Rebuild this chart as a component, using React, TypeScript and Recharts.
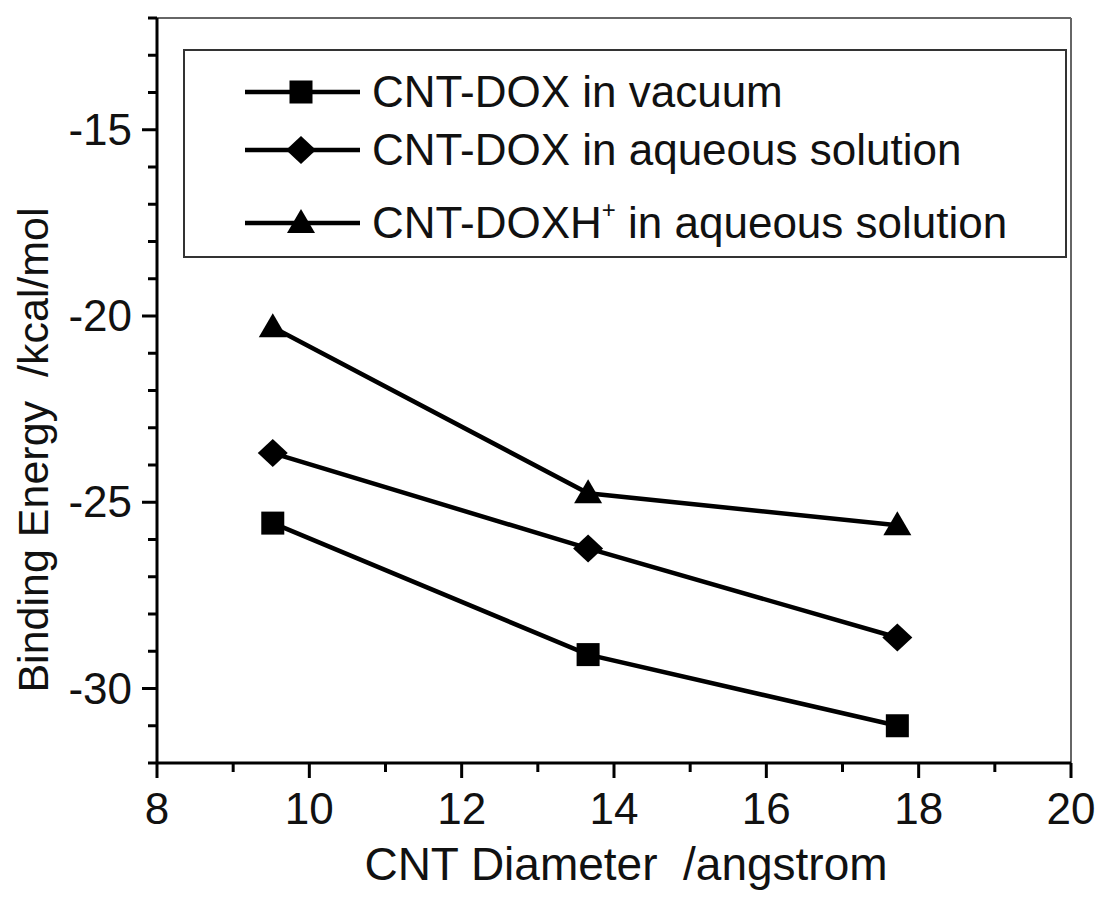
import { LineChart, Line, XAxis, YAxis, Legend, ReferenceLine, Label } from "recharts";

const diameters = [9.52, 13.66, 17.72];
const vacuum = [-25.56, -29.09, -31.0];
const aqueous = [-23.68, -26.24, -28.63];
const protonated = [-20.3, -24.76, -25.62];

const xTicks = [8, 9, 10, 11, 12, 13, 14, 15, 16, 17, 18, 19, 20];
const yTicks = [-32, -31, -30, -29, -28, -27, -26, -25, -24, -23, -22, -21, -20, -19, -18, -17, -16, -15, -14, -13, -12];

const FONT = "'Liberation Sans', Arial, Helvetica, sans-serif";
const PLOT_LEFT = 157;
const PLOT_BOTTOM = 763;

const data = diameters.map((d, i) => ({
  d,
  vacuum: vacuum[i],
  aqueous: aqueous[i],
  protonated: protonated[i],
}));

function Square({ cx, cy }: { cx: number; cy: number }) {
  return <rect x={cx - 11.5} y={cy - 11.5} width={23} height={23} fill="#000" />;
}

function Diamond({ cx, cy }: { cx: number; cy: number }) {
  return <polygon points={`${cx},${cy - 14} ${cx + 15},${cy} ${cx},${cy + 14} ${cx - 15},${cy}`} fill="#000" />;
}

function Triangle({ cx, cy }: { cx: number; cy: number }) {
  return <polygon points={`${cx},${cy - 14} ${cx + 14},${cy + 10} ${cx - 14},${cy + 10}`} fill="#000" />;
}

const dot = (Shape: typeof Square) => (p: any) => <Shape key={p.index} cx={p.cx} cy={p.cy} />;

function YTick({ y, payload }: any) {
  const major = payload.value % 5 === 0;
  return (
    <g>
      <line x1={PLOT_LEFT - (major ? 15 : 9)} x2={PLOT_LEFT} y1={y} y2={y} stroke="#000" strokeWidth={3} />
      {major && (
        <text x={PLOT_LEFT - 25} y={y + 15} textAnchor="end" fontSize={44} fontFamily={FONT} fill="#111">
          {payload.value}
        </text>
      )}
    </g>
  );
}

function XTick({ x, payload }: any) {
  const major = payload.value % 2 === 0;
  return (
    <g>
      <line x1={x} x2={x} y1={PLOT_BOTTOM} y2={PLOT_BOTTOM + (major ? 15 : 9)} stroke="#000" strokeWidth={3} />
      {major && (
        <text x={x} y={PLOT_BOTTOM + 61} textAnchor="middle" fontSize={44} fontFamily={FONT} fill="#111">
          {payload.value}
        </text>
      )}
    </g>
  );
}

const legendRows = [
  { Shape: Square, y: 43, text: "CNT-DOX in vacuum", sup: false },
  { Shape: Diamond, y: 101, text: "CNT-DOX in aqueous solution", sup: false },
  { Shape: Triangle, y: 174, text: "", sup: true },
];

function LegendBox() {
  return (
    <svg width={884} height={209} style={{ display: "block" }}>
      <rect x={1} y={1} width={882} height={207} fill="#fff" stroke="#333" strokeWidth={2} />
      {legendRows.map((r, i) => (
        <g key={i}>
          <line x1={62} x2={177} y1={r.y} y2={r.y} stroke="#000" strokeWidth={4.5} />
          <r.Shape cx={118} cy={r.y} />
          <text x={189} y={r.y + 15} fontSize={44} fontFamily={FONT} fill="#111">
            {r.sup ? (
              <>
                CNT-DOXH
                <tspan fontSize={24} dy={-20}>+</tspan>
                <tspan dy={20}> in aqueous solution</tspan>
              </>
            ) : (
              r.text
            )}
          </text>
        </g>
      ))}
    </svg>
  );
}

export default function App() {
  return (
    <div style={{ position: "absolute", left: 0, top: 0, width: 1101, height: 900, background: "#fff" }}>
      <LineChart width={1101} height={900} data={data} margin={{ top: 18, right: 30, bottom: 0, left: 0 }}>
        <XAxis
          dataKey="d"
          type="number"
          domain={[8, 20]}
          ticks={xTicks}
          interval={0}
          height={137}
          tickLine={false}
          axisLine={{ stroke: "#000", strokeWidth: 3 }}
          tick={<XTick />}
        >
          <Label
            content={() => (
              <text x={626} y={880} textAnchor="middle" fontSize={46} fontFamily={FONT} fill="#111">
                {"CNT Diameter\u00a0 /angstrom"}
              </text>
            )}
          />
        </XAxis>
        <YAxis
          type="number"
          domain={[-32, -12]}
          ticks={yTicks}
          interval={0}
          width={157}
          tickLine={false}
          axisLine={{ stroke: "#000", strokeWidth: 3 }}
          tick={<YTick />}
        >
          <Label
            content={() => (
              <text
                x={48}
                y={450}
                textAnchor="middle"
                fontSize={43}
                fontFamily={FONT}
                fill="#111"
                transform="rotate(-90 48 450)"
              >
                {"Binding Energy\u00a0 /kcal/mol"}
              </text>
            )}
          />
        </YAxis>
        <ReferenceLine y={-12} stroke="#666" strokeWidth={2} />
        <ReferenceLine x={20} stroke="#666" strokeWidth={2} />
        <Line dataKey="vacuum" stroke="#000" strokeWidth={4.5} dot={dot(Square)} isAnimationActive={false} />
        <Line dataKey="aqueous" stroke="#000" strokeWidth={4.5} dot={dot(Diamond)} isAnimationActive={false} />
        <Line dataKey="protonated" stroke="#000" strokeWidth={4.5} dot={dot(Triangle)} isAnimationActive={false} />
        <Legend
          layout="vertical"
          align="center"
          verticalAlign="middle"
          wrapperStyle={{ left: 183, top: 49, width: 884, height: 209 }}
          content={() => <LegendBox />}
        />
      </LineChart>
    </div>
  );
}
